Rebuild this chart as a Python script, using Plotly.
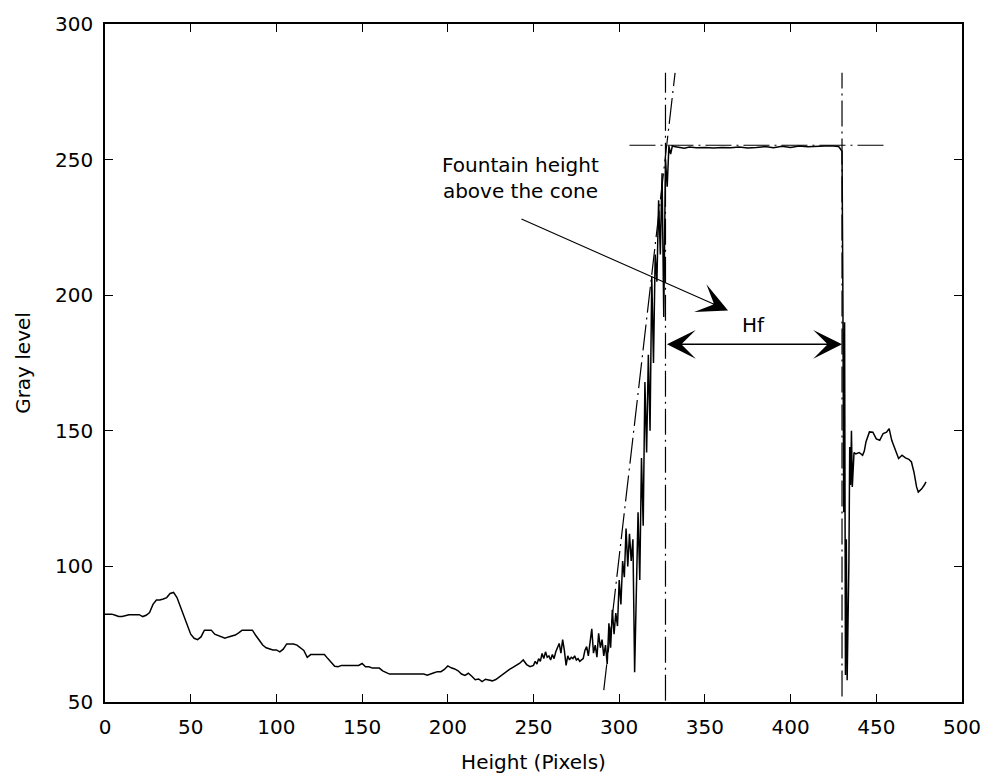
import plotly.graph_objects as go

# ---------------- data ----------------
height_px = [
    0, 2, 4, 6, 8, 10, 12, 14, 16, 18, 20, 22, 24, 26, 28, 30, 32, 34, 36, 38,
    40, 42, 44, 46, 48, 50, 52, 54, 56, 58, 60, 62, 64, 66, 68, 70, 72, 74, 76, 78,
    80, 82, 84, 86, 88, 90, 92, 94, 96, 98, 100, 102, 104, 106, 108, 110, 112, 114, 116, 118,
    120, 122, 124, 126, 128, 130, 132, 134, 136, 138, 140, 142, 144, 146, 148, 150, 152, 154, 156, 158,
    160, 162, 164, 166, 168, 170, 172, 174, 176, 178, 180, 182, 184, 186, 188, 190, 192, 194, 196, 198,
    200, 202, 204, 206, 208, 210, 212, 214, 216, 218, 220, 222, 224, 226, 228, 230, 232, 234, 236, 238,
    240, 242, 244, 246, 248,
    250, 251, 252, 253, 254, 255, 256, 257, 258, 259, 260, 261, 262, 263, 264, 265, 266, 267, 268, 269,
    270, 271, 272, 273, 274, 275, 276, 277, 278, 279, 280, 281, 282, 283, 284, 285, 286, 287, 288, 289,
    290, 291, 292, 293, 294, 295, 296, 297, 298, 299, 300, 301, 302, 303, 304, 305, 306, 307, 308, 309,
    310, 311, 312, 313, 314, 315, 316, 317, 318, 319, 320, 321, 322, 323, 324, 325, 326, 327, 328, 329,
    330, 331, 332, 335, 338, 341, 345, 350, 355, 360, 365, 370, 375, 380, 385, 390, 395, 400, 405, 410,
    415, 420, 425, 428, 429,
    430, 430.5, 431, 431.5, 432, 432.5, 433, 434, 434.5, 435, 435.5, 436, 437, 438, 440, 442, 443, 444, 446, 448,
    450, 452, 454, 456, 457.5, 459, 461, 463, 465, 467, 469, 470.5, 472, 473.5, 474.5, 476.5, 478, 479,
]
gray_level = [
    82.4, 82.4, 82.4, 82.0, 81.5, 81.5, 82.0, 82.2, 82.2, 82.2, 82.2, 81.5, 82.0, 83.0, 86.0, 87.6, 87.6, 88.0, 88.5, 90.0,
    90.4, 88.5, 85.0, 82.0, 78.0, 75.0, 73.5, 73.0, 74.0, 76.5, 76.5, 76.5, 75.0, 74.5, 74.2, 73.5, 74.0, 74.5, 74.7, 75.5,
    76.5, 76.5, 76.5, 76.5, 74.5, 72.5, 71.0, 70.0, 69.5, 69.2, 69.2, 68.5, 69.5, 71.4, 71.4, 71.4, 71.0, 70.0, 69.0, 66.5,
    67.5, 67.5, 67.5, 67.5, 67.5, 66.0, 64.5, 63.2, 63.0, 63.5, 63.5, 63.5, 63.5, 63.5, 63.5, 64.2, 63.0, 63.0, 62.5, 62.5,
    62.5, 61.5, 61.0, 60.3, 60.3, 60.3, 60.3, 60.3, 60.3, 60.3, 60.3, 60.3, 60.3, 60.3, 59.9, 60.5, 60.8, 61.2, 61.2, 62.0,
    63.3, 62.6, 62.2, 61.5, 60.3, 59.8, 60.6, 59.5, 58.2, 58.5, 57.5, 58.4, 58.0, 57.8, 58.3, 59.3, 60.0, 61.0, 62.0, 62.8,
    63.5, 64.3, 65.5, 63.8, 63.0,
    63.5, 65.0, 64.0, 66.0, 65.0, 67.9, 66.0, 68.5, 66.5, 67.0, 65.5, 67.5, 66.0, 68.5, 70.0, 71.6, 68.0, 73.0, 69.0, 63.5,
    67.0, 65.5, 66.5, 66.0, 67.0, 65.5, 66.0, 65.0, 65.5, 66.0, 69.0, 70.4, 67.0, 72.0, 77.0, 68.0, 71.0, 66.5, 75.3, 70.0,
    73.0, 67.0, 71.0, 64.0, 79.0, 70.0, 84.0, 75.0, 82.8, 78.0, 95.0, 86.0, 102.0, 96.0, 114.0, 100.0, 112.0, 102.0, 110.0, 61.0,
    98.0, 120.0, 95.0, 140.0, 115.0, 168.0, 142.0, 178.0, 150.0, 207.0, 175.0, 215.0, 205.0, 235.0, 215.0, 245.0, 192.0, 250.0, 240.0, 255.0,
    252.0, 255.0, 254.8, 254.5, 254.2, 254.6, 254.4, 254.5, 254.3, 254.5, 254.4, 254.6, 254.3, 254.5, 254.8, 254.4, 254.9, 254.5, 255.0, 254.7,
    254.9, 255.0, 255.0, 254.8, 254.0,
    253.0, 200.0, 120.0, 190.0, 60.0, 110.0, 58.0, 101.0, 144.0, 130.0, 150.0, 129.3, 142.0, 141.5, 142.0, 141.0, 142.5, 146.0, 149.6, 149.5,
    147.0, 146.5, 149.0, 149.5, 150.8, 146.5, 142.8, 139.8, 141.0, 140.0, 139.5, 138.5, 134.7, 129.3, 127.4, 128.6, 130.0, 131.2,
]

# construction lines (dash-dot)
left_edge_x = [327, 327]
left_edge_y = [50.5, 282]
right_edge_x = [430, 430]
right_edge_y = [52, 282]
tangent_x = [291, 332.6]
tangent_y = [54.4, 282]
plateau_x = [306, 454.5]
plateau_y = [255.3, 255.3]

# annotation geometry
note_text = "Fountain height<br>above the cone"
note_pos = (242.7, 243.1)
note_arrow_from = (242.1, 228.3)
note_arrow_to = (363.5, 194.4)
hf_from = (327, 181.9)
hf_to = (430, 181.9)
hf_label_pos = (378.4, 188.9)

x_ticks = [0, 50, 100, 150, 200, 250, 300, 350, 400, 450, 500]
y_ticks = [50, 100, 150, 200, 250, 300]

FONT = "DejaVu Sans"
DASH = "26px,5px,2px,5px"

fig = go.Figure()
fig.add_trace(go.Scatter(x=height_px, y=gray_level, mode="lines",
                         line=dict(color="black", width=1.5), hoverinfo="skip"))
for xs, ys in [(left_edge_x, left_edge_y), (right_edge_x, right_edge_y),
               (tangent_x, tangent_y), (plateau_x, plateau_y)]:
    fig.add_trace(go.Scatter(x=xs, y=ys, mode="lines",
                             line=dict(color="black", width=1.2, dash=DASH),
                             hoverinfo="skip"))

fig.add_annotation(x=note_pos[0], y=note_pos[1], text=note_text, showarrow=False,
                   font=dict(family=FONT, size=20, color="black"), align="center")
fig.add_annotation(x=note_arrow_to[0], y=note_arrow_to[1],
                   ax=note_arrow_from[0], ay=note_arrow_from[1],
                   axref="x", ayref="y", xref="x", yref="y", text="",
                   showarrow=True, arrowhead=3, arrowsize=4.6, arrowwidth=1.1,
                   arrowcolor="black", standoff=0, startstandoff=0)
fig.add_annotation(x=hf_to[0], y=hf_to[1], ax=hf_from[0], ay=hf_from[1],
                   axref="x", ayref="y", xref="x", yref="y", text="",
                   showarrow=True, arrowhead=3, startarrowhead=3, arrowside="end+start",
                   arrowsize=3.0, startarrowsize=3.0, arrowwidth=1.6,
                   arrowcolor="black", standoff=0, startstandoff=0)
fig.add_annotation(x=hf_label_pos[0], y=hf_label_pos[1], text="Hf", showarrow=False,
                   font=dict(family=FONT, size=20, color="black"))

axis_common = dict(showline=True, linecolor="black", linewidth=1.5, mirror="ticks",
                   ticks="inside", ticklen=8, tickwidth=1.3, tickcolor="black",
                   showgrid=False, zeroline=False,
                   tickfont=dict(family=FONT, size=20, color="black"))

fig.update_xaxes(range=[0, 500], tickvals=x_ticks, ticktext=[str(v) for v in x_ticks],
                 title=dict(text="Height (Pixels)", font=dict(family=FONT, size=20, color="black"),
                            standoff=17),
                 ticklabelstandoff=6, **axis_common)
fig.update_yaxes(range=[50, 300], tickvals=y_ticks, ticktext=[str(v) for v in y_ticks],
                 title=dict(text="Gray level", font=dict(family=FONT, size=20, color="black"),
                            standoff=19),
                 ticklabelstandoff=6, **axis_common)

fig.update_layout(width=984, height=776, showlegend=False,
                  paper_bgcolor="white", plot_bgcolor="white",
                  margin=dict(l=105, r=22, t=24, b=74, autoexpand=False))

fig.write_html("out.html")
